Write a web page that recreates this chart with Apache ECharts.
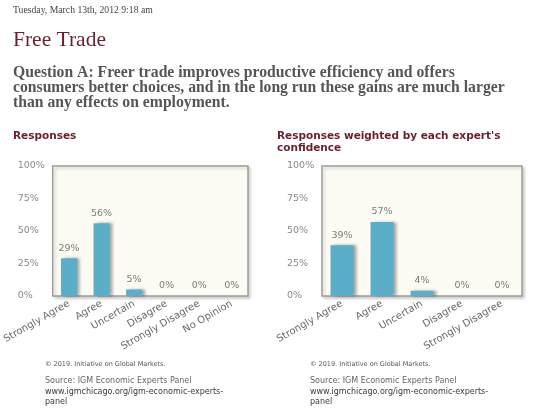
<!DOCTYPE html>
<html>
<head>
<meta charset="utf-8">
<script src="https://cdn.jsdelivr.net/npm/echarts@6/dist/echarts.min.js"></script>
<style>
html,body{margin:0;padding:0;background:#fff;}
#chart{width:540px;height:413px;}
</style>
</head>
<body>
<div id="chart"></div>
<script>
// ---- data ----
const categoriesLeft = ['Strongly Agree', 'Agree', 'Uncertain', 'Disagree', 'Strongly Disagree', 'No Opinion'];
const valuesLeft = [29, 56, 5, 0, 0, 0];
const categoriesRight = ['Strongly Agree', 'Agree', 'Uncertain', 'Disagree', 'Strongly Disagree'];
const valuesRight = [39, 57, 4, 0, 0];
const yTicks = [0, 25, 50, 75, 100];

const dateText = 'Tuesday, March 13th, 2012 9:18 am';
const mainTitle = 'Free Trade';
const questionText = 'Question A: Freer trade improves productive efficiency and offers\nconsumers better choices, and in the long run these gains are much larger\nthan any effects on employment.';
const leftHeading = 'Responses';
const rightHeading = "Responses weighted by each expert's\nconfidence";
const copyrightText = '\u00a9 2019. Initiative on Global Markets.';
const sourceText = 'Source: IGM Economic Experts Panel';
const urlText = 'www.igmchicago.org/igm-economic-experts-\npanel';

const SANS = '"DejaVu Sans", Verdana, sans-serif';
const SERIF = '"Liberation Serif", Georgia, serif';
const MAROON = '#6b1e2c';
const BAR = '#5aaec7';

const chart = echarts.init(document.getElementById('chart'), null, {renderer: 'canvas'});

function gridDef(left, right) {
  return {
    left: left, right: right, top: 166, height: 130,
    show: true, backgroundColor: '#fdfcf4', borderColor: '#9c9c9c', borderWidth: 1.5,
    shadowColor: 'rgba(0,0,0,0.18)', shadowBlur: 3, shadowOffsetX: 2, shadowOffsetY: 2,
    containLabel: false
  };
}
function xAxisDef(idx, cats) {
  return {
    type: 'category', gridIndex: idx, data: cats,
    axisLine: {show: false}, axisTick: {show: false},
    axisLabel: {interval: 0, rotate: 30, color: '#6a6a6a', fontFamily: SANS, fontSize: 10, margin: 7}
  };
}
function yAxisDef(idx) {
  return {
    type: 'value', gridIndex: idx, min: yTicks[0], max: yTicks[yTicks.length - 1],
    interval: yTicks[1] - yTicks[0],
    axisLine: {show: false}, axisTick: {show: false}, splitLine: {show: false},
    axisLabel: {formatter: '{value}%', color: '#8a8a8a', fontFamily: SANS, fontSize: 9.5, align: 'left', margin: 35}
  };
}
function seriesDef(idx, vals, width) {
  return {
    type: 'bar', xAxisIndex: idx, yAxisIndex: idx, data: vals, barWidth: width,
    itemStyle: {color: BAR, shadowColor: 'rgba(0,0,0,0.35)', shadowBlur: 3, shadowOffsetX: 3, shadowOffsetY: 0},
    label: {show: true, position: 'top', distance: 5, formatter: '{c}%', color: '#7a7a7a', fontFamily: SANS, fontSize: 9.5},
    silent: true, animation: false
  };
}
function t(text, left, top, style) {
  return {text: text, left: left, top: top, padding: 0, textStyle: Object.assign({fontWeight: 'normal'}, style)};
}

chart.setOption({
  animation: false,
  title: [
    t(dateText, 13, 5, {fontFamily: SERIF, fontSize: 9.7, color: '#444'}),
    t(mainTitle, 13, 29, {fontFamily: SERIF, fontSize: 21.5, color: MAROON}),
    t(questionText, 13, 65, {fontFamily: SERIF, fontSize: 15.7, fontWeight: 'bold', color: '#555', lineHeight: 15}),
    t(leftHeading, 13, 131, {fontFamily: SANS, fontSize: 10.5, fontWeight: 'bold', color: MAROON}),
    t(rightHeading, 277, 130, {fontFamily: SANS, fontSize: 10.5, fontWeight: 'bold', color: MAROON, lineHeight: 12}),
    t(copyrightText, 45, 361, {fontFamily: SANS, fontSize: 6.5, color: '#555'}),
    t(sourceText, 45, 377, {fontFamily: SANS, fontSize: 8, color: '#666'}),
    t(urlText, 45, 387, {fontFamily: SANS, fontSize: 8, color: '#3a3a3a', lineHeight: 10}),
    t(copyrightText, 310, 361, {fontFamily: SANS, fontSize: 6.5, color: '#555'}),
    t(sourceText, 310, 377, {fontFamily: SANS, fontSize: 8, color: '#666'}),
    t(urlText, 310, 387, {fontFamily: SANS, fontSize: 8, color: '#3a3a3a', lineHeight: 10})
  ],
  grid: [gridDef(48, 292), gridDef(322, 18)],
  xAxis: [xAxisDef(0, categoriesLeft), xAxisDef(1, categoriesRight)],
  yAxis: [yAxisDef(0), yAxisDef(1)],
  series: [seriesDef(0, valuesLeft, 16), seriesDef(1, valuesRight, 23)]
});
</script>
</body>
</html>
